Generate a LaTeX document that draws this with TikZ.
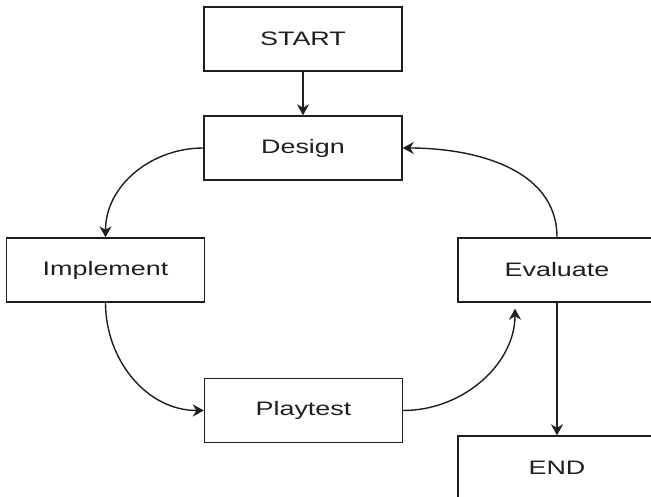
\documentclass[tikz,border=0pt]{standalone}
\usepackage{fontspec}
\setmainfont{Liberation Sans}[FakeStretch=1.38]
\usetikzlibrary{arrows.meta,calc}
\definecolor{ink}{HTML}{1E1E1E}
\tikzset{
  stagebox/.style={draw=ink, line width=1.4pt, fill=white, minimum width=198pt,
    minimum height=64pt, inner sep=0pt, text=ink,
    font=\fontsize{19.5}{22}\selectfont},
  flow/.style={draw=ink, line width=1.4pt,
    -{Stealth[length=11pt,width=12pt,inset=3.5pt]}}
}
\begin{document}
\begin{tikzpicture}[x=1pt,y=1pt]
  \fill[white] (0,0) rectangle (651,-497);
  \useasboundingbox (0,0) rectangle (651,-497);
  \clip (0,0) rectangle (651,-497);

  \node[stagebox] (start) at (303,-39)    {START};
  \node[stagebox] (design) at (303,-148)  {Design};
  \node[stagebox] (impl) at (105.5,-270)  {Implement};
  \node[stagebox] (eval) at (557,-270)    {Evaluate};
  \node[stagebox] (play) at (303.5,-410.5) {Playtest};
  \node[stagebox] (end) at (557,-468)     {END};

  \coordinate (evalin) at ($(eval.south)+(-42,0)$);

  \draw[flow] (start) -- (design);
  \draw[flow] (design.west) to[out=180,in=90] (impl.north);
  \draw[flow] (impl.south) to[out=-90,in=180] (play.west);
  \draw[flow, shorten >=6pt] (play.east) to[out=0,in=-90] (evalin);
  \draw[flow] (eval.north) to[out=90,in=0] (design.east);
  \draw[flow] (eval) -- (end);
\end{tikzpicture}
\end{document}
